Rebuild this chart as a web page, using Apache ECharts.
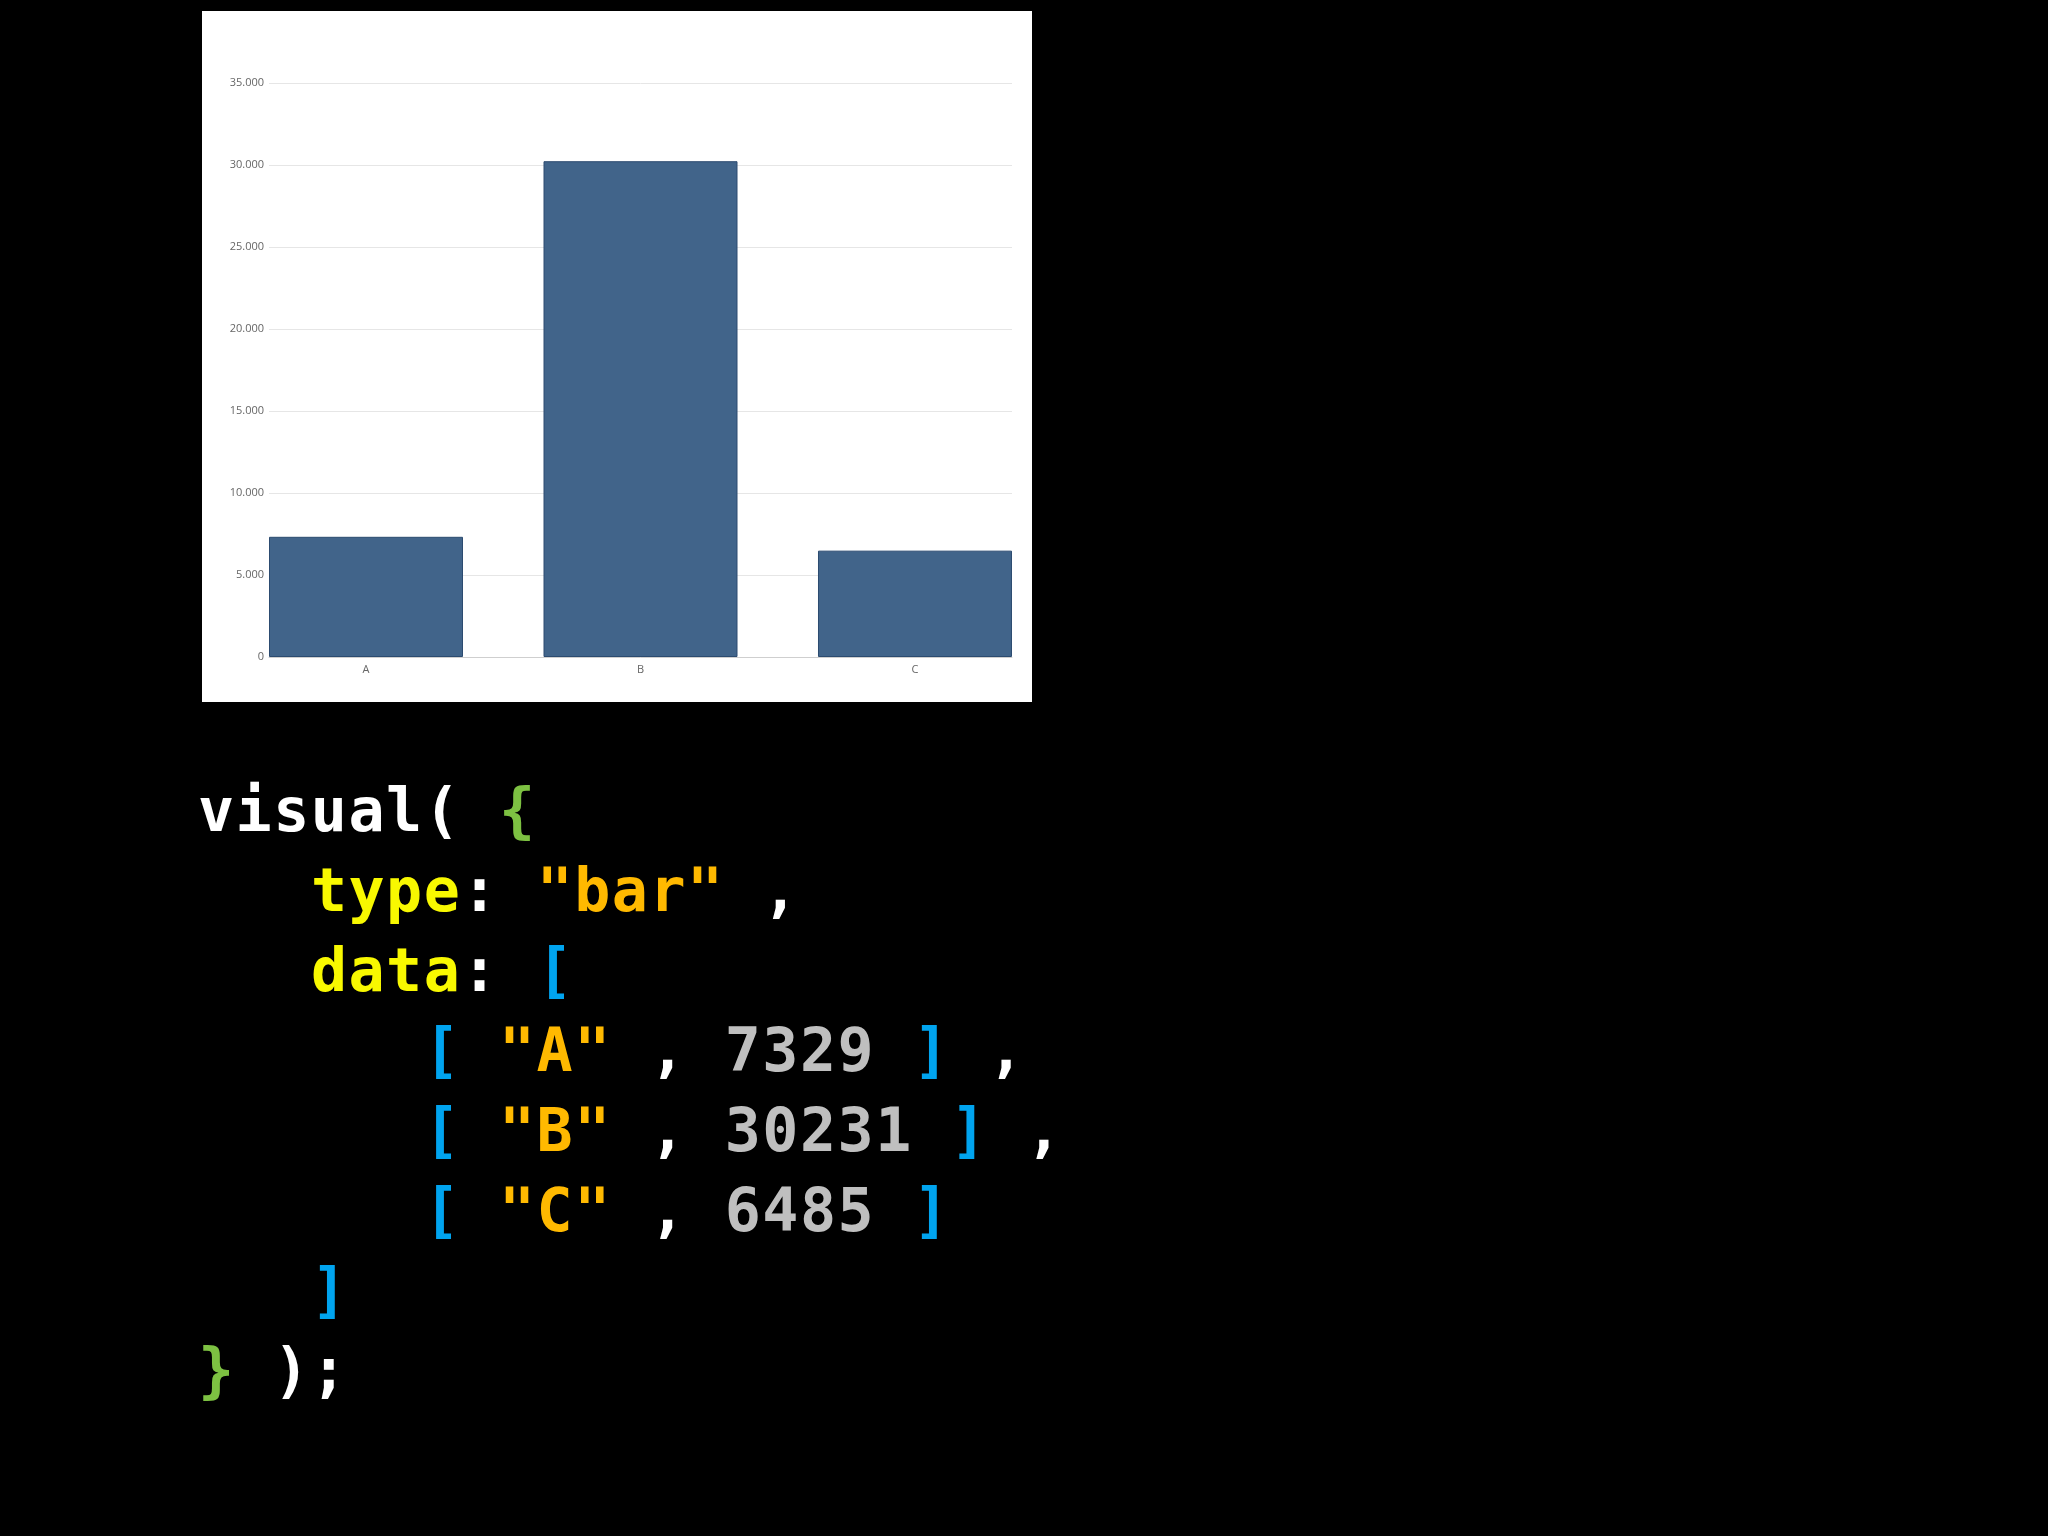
<!DOCTYPE html>
<html>
<head>
<meta charset="utf-8">
<script src="https://cdn.jsdelivr.net/npm/echarts@6/dist/echarts.min.js"></script>
<style>
  html, body { margin: 0; padding: 0; background: #000; width: 2048px; height: 1536px; overflow: hidden; }
  #chart { position: absolute; left: 202px; top: 11px; width: 830px; height: 691px; background: #fff; }
  .line {
    position: absolute; left: 198px; margin: 0;
    font-family: "DejaVu Sans Mono", monospace; font-weight: bold;
    font-size: 60px; line-height: 70px; letter-spacing: 1.5px; color: #fff;
    white-space: pre;
  }
  .g { color: #7dc142; } .y { color: #f8f800; } .o { color: #ffb900; }
  .b { color: #00a4ef; } .n { color: #bfbfbf; }
</style>
</head>
<body>
<div id="chart"></div>
<div id="code"></div>
<script>
var categories = ['A', 'B', 'C'];
var values = [7329, 30231, 6485];
var yMax = 35000;
var yStep = 5000;

function dots(v) {
  return String(v).replace(/\B(?=(\d{3})+(?!\d))/g, '.');
}

var chart = echarts.init(document.getElementById('chart'));
chart.setOption({
  animation: false,
  grid: { left: 67, top: 72, right: 20, bottom: 45 },
  xAxis: {
    type: 'value',
    min: -0.3534,
    max: 2.3534,
    splitLine: { show: false },
    axisTick: { show: false },
    axisLine: { show: true, onZero: false, lineStyle: { color: '#cfcfcf', width: 1 } },
    axisLabel: {
      customValues: [0, 1, 2],
      formatter: function (v) { return categories[v]; },
      color: '#666', fontSize: 11, fontFamily: 'Open Sans', margin: 7
    }
  },
  yAxis: {
    type: 'value',
    min: 0,
    max: yMax,
    interval: yStep,
    axisLine: { show: false },
    axisTick: { show: false },
    splitLine: { lineStyle: { color: '#e6e6e6', width: 1 } },
    axisLabel: {
      formatter: dots,
      color: '#666', fontSize: 11, fontFamily: 'Open Sans', margin: 5
    }
  },
  series: [{
    type: 'bar',
    barWidth: 194,
    data: values.map(function (v, i) { return [i, v]; }),
    itemStyle: { color: '#41648a', borderColor: '#2c4b70', borderWidth: 1 }
  }]
});

// code listing under the chart, built from the same arrays
function s(cls, t) { return '<span class="' + cls + '">' + t + '</span>'; }
var lines = [];
lines.push('visual( ' + s('g', '{'));
lines.push('   ' + s('y', 'type') + ': ' + s('o', '"bar"') + ' ,');
lines.push('   ' + s('y', 'data') + ': ' + s('b', '['));
categories.forEach(function (c, i) {
  var row = '      ' + s('b', '[') + ' ' + s('o', '"' + c + '"') + ' , ' + s('n', values[i]) + ' ' + s('b', ']');
  if (i < categories.length - 1) row += ' ,';
  lines.push(row);
});
lines.push('   ' + s('b', ']'));
lines.push(s('g', '}') + ' );');

var code = document.getElementById('code');
lines.forEach(function (html, i) {
  var d = document.createElement('div');
  d.className = 'line';
  d.style.top = (775 + i * 80) + 'px';
  d.innerHTML = html;
  code.appendChild(d);
});
</script>
</body>
</html>
